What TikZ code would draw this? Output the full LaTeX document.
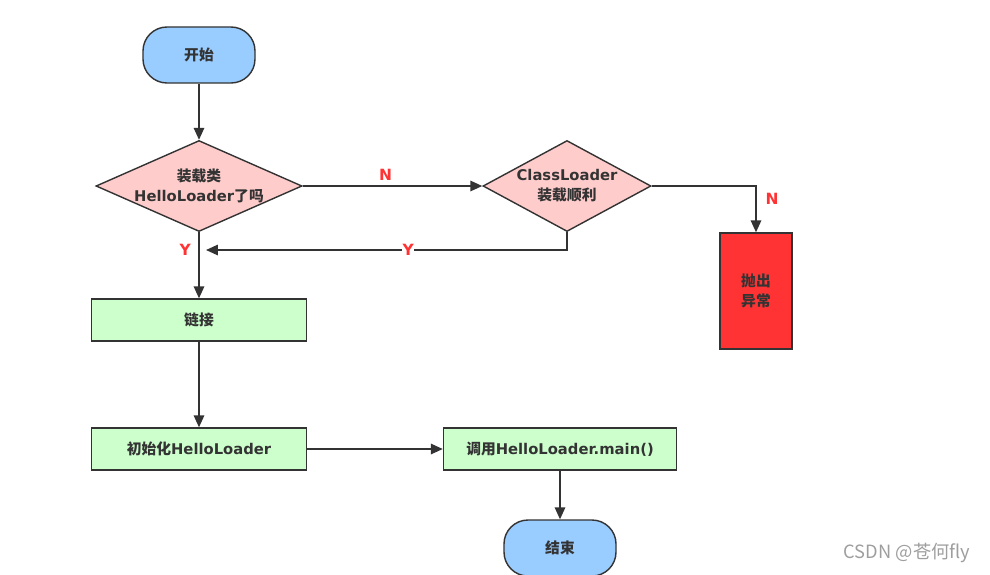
\documentclass[tikz,border=0pt]{standalone}
\usepackage{fontspec}
\setmainfont{DejaVu Sans}
\newfontfamily\zh{Noto Sans CJK SC}
\usetikzlibrary{arrows.meta,shapes.geometric,positioning}
\definecolor{edgegray}{HTML}{333333}
\definecolor{termblue}{HTML}{99CCFF}
\definecolor{askpink}{HTML}{FFCCCC}
\definecolor{stepgreen}{HTML}{CCFFCC}
\definecolor{errred}{HTML}{FF3333}
\definecolor{labelred}{HTML}{FF3333}

\begin{document}
\begin{tikzpicture}[x=0.025cm,y=-0.025cm,
    every node/.style={font=\fontsize{10.5}{14}\selectfont\bfseries,text=edgegray,align=center},
    term/.style={draw=edgegray,line width=1pt,fill=termblue,rounded corners=0.6cm,minimum width=2.8cm,minimum height=1.4cm},
    ask/.style={diamond,draw=edgegray,line width=1pt,fill=askpink,inner sep=0pt,minimum height=2.275cm},
    stepbox/.style={draw=edgegray,line width=1pt,fill=stepgreen,minimum height=1.05cm},
    flow/.style={draw=edgegray,line width=1pt,-{Triangle[length=8.5pt,width=7.5pt]}},
    yn/.style={text=labelred,font=\fontsize{11}{13}\selectfont\bfseries}]
    \useasboundingbox (0,0) rectangle (990,574);
    \clip (0,0) rectangle (990,574);
    \node[term] (start) at (199,55) {\zh 开始};
    \node[ask,minimum width=5.15cm] (q1) at (199,186) {};
    \node (q1t) at (q1) {{\zh 装载类}\\HelloLoader{\zh 了吗}};
    \node[ask,minimum width=4.2cm] (q2) at (567,186) {};
    \node (q2t) at (q2) {ClassLoader\\{\zh 装载顺利}};
    \node[draw=edgegray,line width=1pt,fill=errred,minimum width=1.8cm,minimum height=2.9cm] (err) at (756,291) {\zh 抛出\\\zh 异常};
    \node[stepbox,minimum width=5.375cm] (link) at (199,320) {\zh 链接};
    \node[stepbox,minimum width=5.375cm] (init) at (199,449) {{\zh 初始化}HelloLoader};
    \node[stepbox,minimum width=5.825cm] (call) at (560,449) {{\zh 调用}HelloLoader.main()};
    \node[term] (stop) at (560,548) {\zh 结束};
    \node[font=\fontsize{13}{15}\selectfont\zh,text=black!38] (mark) at (907,553) {CSDN @苍何fly};
    \coordinate (back) at (206,250);
    \draw[flow] (start) -- (q1);
    \draw[flow] (q1) -- node[yn,above,xshift=-5pt]{N} (q2);
    \draw[flow] (q2.east) -| node[yn,pos=0.64,anchor=west,xshift=3pt]{N} (err);
    \draw[flow] (q1) -- node[yn,left,pos=0.27,xshift=-2pt]{Y} (link);
    \draw[flow] (q2.south) |- node[yn,pos=0.72,fill=white,inner sep=0.5pt]{Y} (back);
    \draw[flow] (link) -- (init);
    \draw[flow] (init) -- (call);
    \draw[flow] (call) -- (stop);
\end{tikzpicture}
\end{document}
